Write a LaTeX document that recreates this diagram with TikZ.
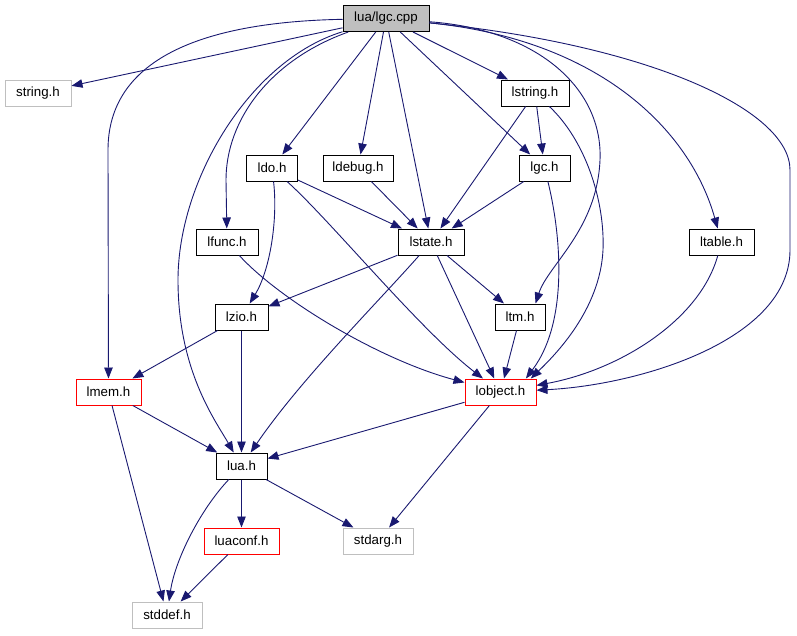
\documentclass[tikz,border=0pt]{standalone}
\usepackage{fontspec}
\setmainfont{Liberation Sans}
\usetikzlibrary{arrows.meta}
\definecolor{edgeBlue}{RGB}{25, 25, 112}
\definecolor{headerRed}{RGB}{255, 0, 0}
\definecolor{sysGray}{RGB}{191, 191, 191}

\begin{document}
\begin{tikzpicture}[
  x=1pt, y=-1pt,
  box/.style={
    draw,
    line width=1pt,
    minimum height=26pt,
    inner sep=0pt,
    font=\fontsize{13.3}{15}\selectfont
  },
  rootbox/.style={box,fill=sysGray},
  redbox/.style={box,draw=headerRed},
  sysbox/.style={box,draw=sysGray},
  arrow/.style={-{Triangle[length=11pt,width=8.5pt]},line width=0.9pt,edgeBlue}
]
  \useasboundingbox (0,0) rectangle (797,635);

  % include files
  \node[rootbox,minimum width=86pt] (lgccpp) at (386,18.5) {lua/lgc.cpp};
  \node[sysbox,minimum width=66pt] (string) at (38,93) {string.h};
  \node[box,minimum width=68pt] (lstring) at (535,93) {lstring.h};
  \node[box,minimum width=51pt] (ldo) at (272,168) {ldo.h};
  \node[box,minimum width=70pt] (ldebug) at (358,168) {ldebug.h};
  \node[box,minimum width=51pt] (lgc) at (544.5,168) {lgc.h};
  \node[box,minimum width=62pt] (lfunc) at (227,242) {lfunc.h};
  \node[box,minimum width=66pt] (lstate) at (431,242) {lstate.h};
  \node[box,minimum width=65pt] (ltable) at (721.5,242) {ltable.h};
  \node[box,minimum width=53pt] (lzio) at (241.5,317) {lzio.h};
  \node[box,minimum width=50pt] (ltm) at (520,317) {ltm.h};
  \node[redbox,minimum width=65pt] (lmem) at (108.5,392) {lmem.h};
  \node[redbox,minimum width=71pt] (lobject) at (500.5,392) {lobject.h};
  \node[box,minimum width=51pt] (lua) at (241.5,466) {lua.h};
  \node[redbox,minimum width=75pt] (luaconf) at (241.5,541) {luaconf.h};
  \node[sysbox,minimum width=70pt] (stdarg) at (378,541) {stdarg.h};
  \node[sysbox,minimum width=70pt] (stddef) at (167,615) {stddef.h};

  % lgc.cpp
  \draw[arrow] (lgccpp) -- (string);
  \draw[arrow] (lgccpp) .. controls (200,22) and (108,60) .. (108,150) -- (lmem);
  \draw[arrow] (lgccpp) .. controls (250,60) and (178,180) .. (178,280)
    .. controls (178,370) and (215,420) .. (lua);
  \draw[arrow] (lgccpp) .. controls (270,60) and (226,120) .. (226,180) -- (lfunc);
  \draw[arrow] (lgccpp) -- (ldo);
  \draw[arrow] (lgccpp) -- (ldebug);
  \draw[arrow] (lgccpp) -- (lstate);
  \draw[arrow] (lgccpp) -- (lstring);
  \draw[arrow] (lgccpp) -- (lgc);
  \draw[arrow] (lgccpp) .. controls (540,30) and (603,90) .. (600,160)
    .. controls (597,230) and (548,265) .. (ltm.41);
  \draw[arrow] (lgccpp) .. controls (600,40) and (690,130) .. (ltable);
  \draw[arrow] (lgccpp) .. controls (650,45) and (790,110) .. (790,170) -- (790,250)
    .. controls (790,340) and (640,385) .. (lobject);

  % second level
  \draw[arrow] (lstring) -- (lgc);
  \draw[arrow] (lstring) -- (lstate);
  \draw[arrow] (lstring) .. controls (585,140) and (605,200) .. (603,250)
    .. controls (600,310) and (555,355) .. (lobject.24);
  \draw[arrow] (ldo) -- (lstate);
  \draw[arrow] (ldo) .. controls (278,220) and (270,270) .. (lzio);
  \draw[arrow] (ldo) .. controls (330,220) and (420,330) .. (lobject);
  \draw[arrow] (ldebug) -- (lstate);
  \draw[arrow] (lgc) -- (lstate);
  \draw[arrow] (lgc) .. controls (560,230) and (570,320) .. (lobject.28);
  \draw[arrow] (lfunc) .. controls (280,300) and (380,360) .. (lobject);
  \draw[arrow] (lstate) -- (lzio);
  \draw[arrow] (lstate) -- (ltm);
  \draw[arrow] (lstate) -- (lobject);
  \draw[arrow] (lstate) .. controls (380,300) and (300,380) .. (lua);
  \draw[arrow] (ltable) .. controls (700,320) and (620,370) .. (lobject);

  % lower levels
  \draw[arrow] (lzio) -- (lmem);
  \draw[arrow] (lzio) -- (lua);
  \draw[arrow] (ltm) -- (lobject);
  \draw[arrow] (lmem) -- (lua);
  \draw[arrow] (lmem) -- (stddef);
  \draw[arrow] (lobject) -- (lua);
  \draw[arrow] (lobject) -- (stdarg);
  \draw[arrow] (lua) -- (luaconf);
  \draw[arrow] (lua) -- (stdarg);
  \draw[arrow] (lua) .. controls (200,510) and (175,560) .. (stddef);
  \draw[arrow] (luaconf) -- (stddef);
\end{tikzpicture}
\end{document}
